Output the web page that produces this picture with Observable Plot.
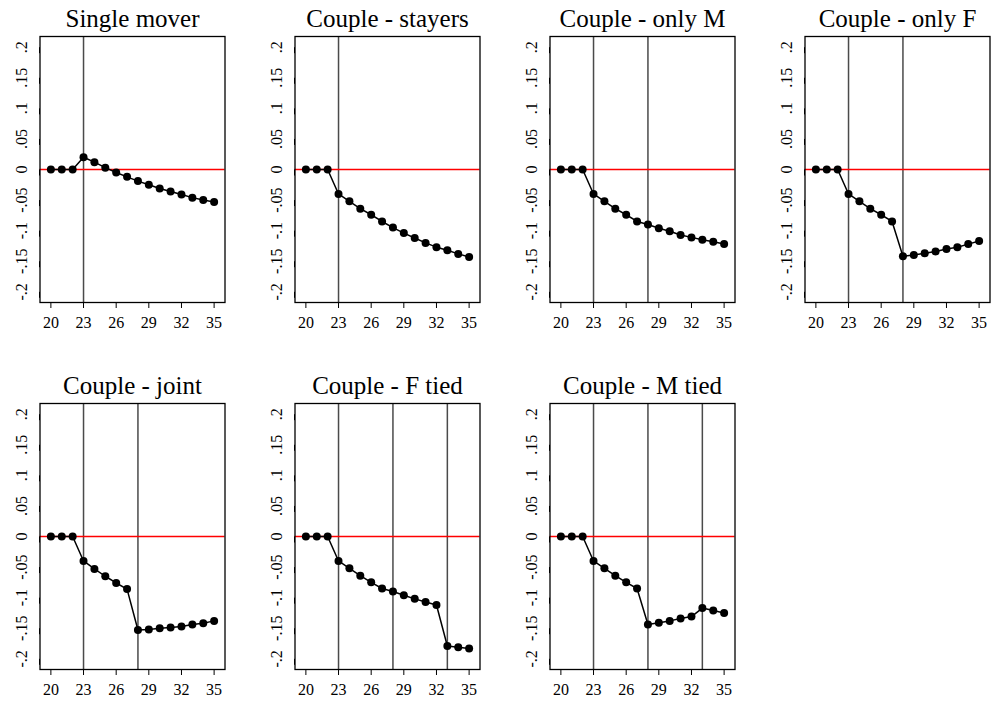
<!DOCTYPE html>
<html>
<head>
<meta charset="utf-8">
<script src="https://cdn.jsdelivr.net/npm/d3@7"></script>
<script src="https://cdn.jsdelivr.net/npm/@observablehq/plot@0.6"></script>
<style>
  body { margin: 0; background: #ffffff; overflow: hidden; }
  #chart { position: relative; width: 991px; height: 702px; background: #ffffff; overflow: hidden; }
  #chart > div { position: absolute; }
  #chart svg { max-width: none !important; }
</style>
</head>
<body>
<div id="chart"></div>
<script>
const ages = [20, 21, 22, 23, 24, 25, 26, 27, 28, 29, 30, 31, 32, 33, 34, 35];

const titles = ["Single mover", "Couple - stayers", "Couple - only M", "Couple - only F",
                "Couple - joint", "Couple - F tied", "Couple - M tied"];

const singleMover   = [0, 0, 0, 0.020, 0.012, 0.003, -0.005, -0.012, -0.019, -0.025, -0.031, -0.036, -0.041, -0.046, -0.050, -0.053];
const coupleStayers = [0, 0, 0, -0.040, -0.052, -0.064, -0.074, -0.085, -0.095, -0.104, -0.112, -0.120, -0.127, -0.132, -0.138, -0.143];
const coupleOnlyM   = [0, 0, 0, -0.040, -0.052, -0.064, -0.074, -0.085, -0.090, -0.096, -0.101, -0.107, -0.111, -0.115, -0.118, -0.122];
const coupleOnlyF   = [0, 0, 0, -0.040, -0.052, -0.064, -0.074, -0.085, -0.142, -0.140, -0.137, -0.134, -0.130, -0.127, -0.122, -0.117];
const coupleJoint   = [0, 0, 0, -0.040, -0.053, -0.065, -0.076, -0.086, -0.153, -0.152, -0.150, -0.149, -0.147, -0.144, -0.142, -0.138];
const coupleFTied   = [0, 0, 0, -0.040, -0.052, -0.064, -0.075, -0.085, -0.090, -0.096, -0.102, -0.107, -0.112, -0.179, -0.181, -0.183];
const coupleMTied   = [0, 0, 0, -0.040, -0.052, -0.064, -0.075, -0.085, -0.144, -0.141, -0.138, -0.134, -0.131, -0.117, -0.121, -0.125];

const seriesList = [singleMover, coupleStayers, coupleOnlyM, coupleOnlyF, coupleJoint, coupleFTied, coupleMTied];

const eventAges = [[23], [23], [23, 28], [23, 28], [23, 28], [23, 28, 33], [23, 28, 33]];

const xTicks = [20, 23, 26, 29, 32, 35];
const yTicks = [-0.2, -0.15, -0.1, -0.05, 0, 0.05, 0.1, 0.15, 0.2];
const yTickLabels = ["-.2", "-.15", "-.1", "-.05", "0", ".05", ".1", ".15", ".2"];

const cellLeft = [0, 255, 510, 765, 0, 255, 510];
const cellTop = [0, 0, 0, 0, 367, 367, 367];

const serif = "'Liberation Serif', 'Times New Roman', serif";
const chart = document.getElementById("chart");

seriesList.forEach((vals, k) => {
  const data = ages.map((a, i) => ({age: a, value: vals[i]}));
  const p = Plot.plot({
    width: 255,
    height: 335,
    marginLeft: 39.5,
    marginRight: 30.5,
    marginTop: 36,
    marginBottom: 33,
    x: {domain: [19, 36], label: null},
    y: {domain: [-0.2175, 0.2175], label: null},
    style: {fontFamily: serif, fontSize: "16px", background: "white", color: "black", overflow: "visible", maxWidth: "none"},
    marks: [
      Plot.ruleX(eventAges[k], {stroke: "#4a4a4a", strokeWidth: 1.5}),
      Plot.ruleY([0], {stroke: "#ff0000", strokeWidth: 1.5}),
      Plot.line(data, {x: "age", y: "value", stroke: "black", strokeWidth: 1.5}),
      Plot.dot(data, {x: "age", y: "value", r: 4, fill: "black", stroke: "none"}),
      Plot.frame({stroke: "black", strokeWidth: 1.3}),
      Plot.axisX(xTicks, {tickSize: 6, tickPadding: 8, fontSize: 16, fontFamily: serif, label: null,
                          tickFormat: d => String(d)}),
      Plot.axisY(yTicks, {tickSize: 6, tickPadding: 12, fontSize: 16, fontFamily: serif, label: null,
                          rotate: -90, textAnchor: "middle",
                          tickFormat: d => yTickLabels[yTicks.indexOf(d)]}),
      Plot.text([titles[k]], {frameAnchor: "top", lineAnchor: "bottom", dy: -9.5, fontSize: 25,
                              fontFamily: serif, fill: "black"})
    ]
  });
  const holder = document.createElement("div");
  holder.style.left = cellLeft[k] + "px";
  holder.style.top = cellTop[k] + "px";
  holder.appendChild(p);
  chart.appendChild(holder);
});
</script>
</body>
</html>
